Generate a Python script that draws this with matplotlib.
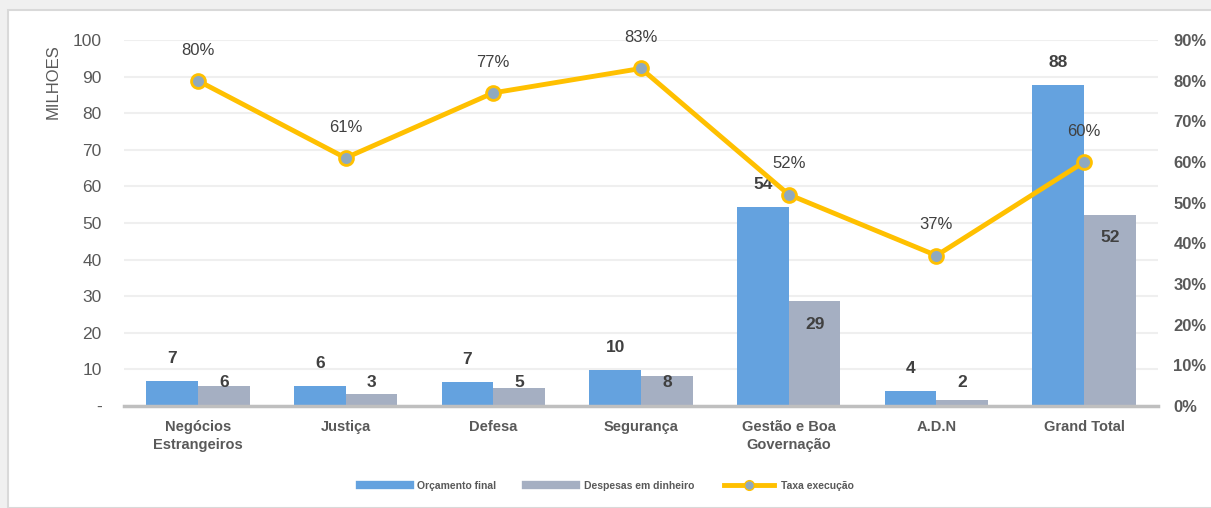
import matplotlib
matplotlib.use("Agg")
import matplotlib.pyplot as plt
from matplotlib import font_manager
from matplotlib.lines import Line2D
from matplotlib.patches import Rectangle
import numpy as np

categories = ["Negócios\nEstrangeiros", "Justiça", "Defesa", "Segurança",
              "Gestão e Boa\nGovernação", "A.D.N", "Grand Total"]
orcamento = [6.8, 5.6, 6.6, 9.8, 54.4, 4.1, 87.7]
despesas = [5.6, 3.3, 4.9, 8.2, 28.6, 1.6, 52.3]
taxa = [0.80, 0.61, 0.77, 0.83, 0.52, 0.37, 0.60]
left_ticks = [0, 10, 20, 30, 40, 50, 60, 70, 80, 90, 100]
left_labels = ["-", "10", "20", "30", "40", "50", "60", "70", "80", "90", "100"]
right_ticks = [0, 0.1, 0.2, 0.3, 0.4, 0.5, 0.6, 0.7, 0.8, 0.9]
series_names = ["Orçamento final", "Despesas em dinheiro", "Taxa execução"]

names = {f.name for f in font_manager.fontManager.ttflist}
fam = "Liberation Sans Narrow" if "Liberation Sans Narrow" in names else "Liberation Sans"
plt.rcParams["font.family"] = [fam, "DejaVu Sans"]

BLUE = "#64A2DF"
GREY = "#A5AFC2"
GOLD = "#FFC000"
TXT = "#595959"
DARK = "#404040"

W, H = 1211, 508
fig = plt.figure(figsize=(W / 100, H / 100), dpi=100)
fig.patch.set_facecolor("#F0F0F0")
fig.patches.append(Rectangle((8 / W, 0), 1.0, 1 - 10 / H, transform=fig.transFigure,
                             facecolor="white", edgecolor="#D9D9D9", linewidth=1.5, zorder=-5))

ax = fig.add_axes([124 / W, 1 - 406 / H, (1158 - 124) / W, (406 - 40) / H])
ax.set_facecolor("none")
x = np.arange(len(categories))
bw = 0.35
b1 = ax.bar(x - bw / 2, orcamento, bw, color=BLUE, zorder=2)
b2 = ax.bar(x + bw / 2, despesas, bw, color=GREY, zorder=2)
ax.set_xlim(-0.5, len(categories) - 0.5)
ax.set_ylim(0, 100)
ax.set_yticks(left_ticks)
ax.set_yticklabels(left_labels)
ax.tick_params(axis="y", length=0, pad=16, labelsize=12.5, labelcolor=TXT)
ax.set_xticks(x)
ax.set_xticklabels(categories, fontweight="bold")
ax.tick_params(axis="x", length=0, pad=10, labelsize=10.5, labelcolor=TXT)
for t in ax.get_xticklabels():
    t.set_linespacing(1.4)
ax.grid(axis="y", color="#EFEFEF", linewidth=1.5, zorder=0)
for s in ["top", "right", "left"]:
    ax.spines[s].set_visible(False)
ax.spines["bottom"].set_color("#BFBFBF")
ax.spines["bottom"].set_linewidth(2.5)
ax.spines["bottom"].set_zorder(3)

for xi, v in zip(x, orcamento):
    ax.annotate(f"{v:.0f}", (xi - bw / 2, v), xytext=(0, 16), textcoords="offset points",
                ha="center", va="center", fontsize=12.5, fontweight="bold", color=DARK)
for xi, v in zip(x, despesas):
    yc = max(v - 6.3, 6.3)
    ax.text(xi + bw / 2, yc, f"{v:.0f}", ha="center", va="center",
            fontsize=12.5, fontweight="bold", color=DARK, zorder=4)

ax2 = ax.twinx()
ax2.set_ylim(0, 0.9)
ax2.set_yticks(right_ticks)
ax2.set_yticklabels([f"{int(round(t * 100))}%" for t in right_ticks], fontweight="bold")
ax2.tick_params(axis="y", length=0, pad=11, labelsize=12, labelcolor=TXT)
for s in ax2.spines.values():
    s.set_visible(False)
ax2.plot(x, taxa, color=GOLD, linewidth=3.5, marker="o", markersize=10,
         markerfacecolor="#8FA9BE", markeredgecolor=GOLD, markeredgewidth=2, zorder=5)
for xi, v in zip(x, taxa):
    ax2.annotate(f"{v * 100:.0f}%", (xi, v), xytext=(0, 22), textcoords="offset points",
                 ha="center", va="center", fontsize=12, color=DARK)

fig.text(53 / W, 1 - 82 / H, "MILHOES", rotation=90, ha="center", va="center",
         fontsize=12, color=TXT)

handles = [Line2D([], [], color=BLUE, linewidth=6),
           Line2D([], [], color=GREY, linewidth=6),
           Line2D([], [], color=GOLD, linewidth=3.5, marker="o", markersize=7,
                  markerfacecolor="#8FA9BE", markeredgecolor=GOLD)]
leg = fig.legend(handles, series_names, loc="center", ncol=3,
                 bbox_to_anchor=(607 / W, 1 - 486 / H), frameon=False,
                 prop={"size": 7.5, "weight": "bold"}, handlelength=4.8,
                 columnspacing=2.9, handletextpad=0.7)
for t in leg.get_texts():
    t.set_color(TXT)

fig.savefig("out.png", dpi=100, facecolor=fig.get_facecolor())
